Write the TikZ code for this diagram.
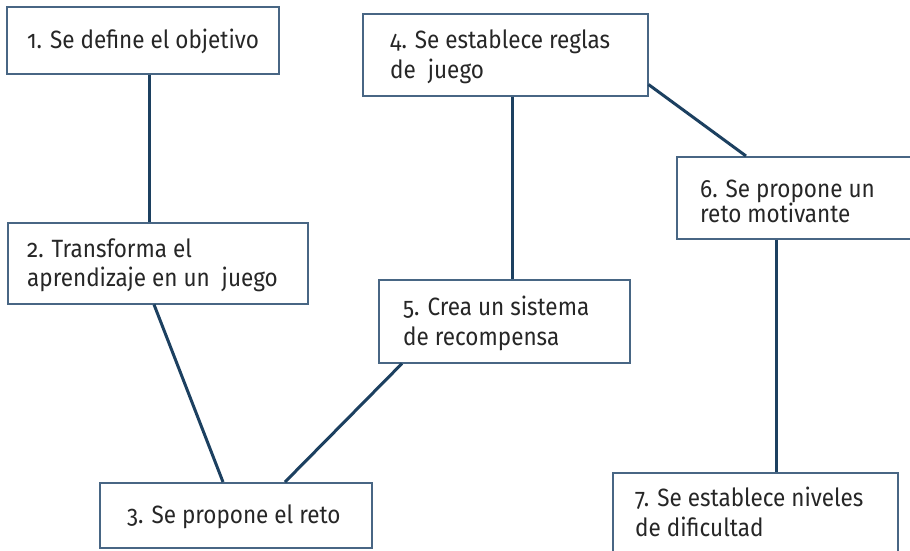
\documentclass[tikz,border=0pt]{standalone}
\usepackage{fontspec}
\setmainfont{Fira Sans}[Numbers=OldStyle, FakeStretch=0.9]
\definecolor{boxline}{RGB}{72,102,132}
\definecolor{conn}{RGB}{28,64,96}
\definecolor{txtc}{RGB}{38,38,38}
\begin{document}
\begin{tikzpicture}[x=1pt,y=1pt,
  stepbox/.style={draw=boxline, line width=1.5pt, rectangle, inner sep=0pt},
  lbl/.style={anchor=base west, inner sep=0pt, align=left, text=txtc, font=\fontsize{25}{30}\selectfont},
  link/.style={draw=conn, line width=3pt}]
\useasboundingbox (0,0) rectangle (910,-550);
\clip (0,0) rectangle (910,-550);
% boxes
\node[stepbox, minimum width=272pt, minimum height=67pt, anchor=north west] (b1) at (6,-6) {};
\node[stepbox, minimum width=285pt, minimum height=82pt, anchor=north west] (b4) at (362,-13) {};
\node[stepbox, minimum width=240pt, minimum height=82pt, anchor=north west] (b6) at (676,-156) {};
\node[stepbox, minimum width=300pt, minimum height=81pt, anchor=north west] (b2) at (7,-222) {};
\node[stepbox, minimum width=251pt, minimum height=83pt, anchor=north west] (b5) at (378,-279) {};
\node[stepbox, minimum width=272pt, minimum height=65pt, anchor=north west] (b3) at (99,-482) {};
\node[stepbox, minimum width=285pt, minimum height=95pt, anchor=north west] (b7) at (612,-472) {};
% texts (anchor = baseline of the last line)
\node[lbl] (t1) at (27,-48) {1. Se define el objetivo};
\node[lbl] (t4) at (390,-78) {4. Se establece reglas\\de\ \ juego};
\node[lbl, font=\fontsize{25}{25}\selectfont] (t6) at (700,-222) {6. Se propone un\\reto motivante};
\node[lbl, font=\fontsize{25}{29}\selectfont] (t2) at (27,-286) {2. Transforma el\\aprendizaje en un\ \ juego};
\node[lbl] (t5) at (403,-345) {5. Crea un sistema\\de recompensa};
\node[lbl] (t3) at (127,-523) {3. Se propone el reto};
\node[lbl] (t7) at (635,-536) {7. Se establece niveles\\de dificultad};
% connectors
\draw[link] ([xshift=143pt]b1.south west) -- ([xshift=142pt]b2.north west);
\draw[link] ([xshift=150pt]b4.south west) -- ([xshift=134pt]b5.north west);
\draw[link] ([yshift=12pt]b4.south east) -- ([xshift=70pt]b6.north west);
\draw[link] ([xshift=100pt]b6.south west) -- ([xshift=164pt]b7.north west);
\draw[link] ([xshift=147pt]b2.south west) -- ([xshift=124pt]b3.north west);
\draw[link] ([xshift=24pt]b5.south west) -- ([xshift=186pt]b3.north west);
\end{tikzpicture}
\end{document}
